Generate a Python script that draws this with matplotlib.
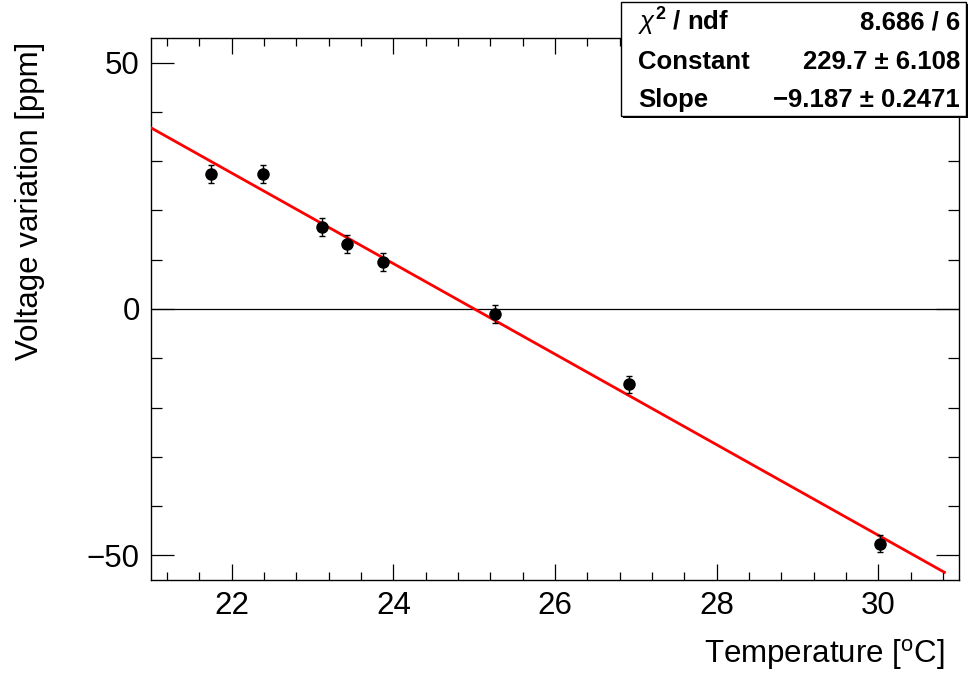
import matplotlib
matplotlib.use("Agg")
import matplotlib.pyplot as plt
from matplotlib.patches import Rectangle
from matplotlib.ticker import MultipleLocator
import numpy as np

plt.rcParams['font.family'] = ['Liberation Sans', 'DejaVu Sans']
plt.rcParams['mathtext.fontset'] = 'custom'
plt.rcParams['mathtext.rm'] = 'Liberation Sans'
plt.rcParams['mathtext.it'] = 'Liberation Sans:italic'
plt.rcParams['mathtext.bf'] = 'Liberation Sans:bold'

# ---- data ----
temperature = [21.74, 22.39, 23.12, 23.43, 23.87, 25.26, 26.91, 30.02]
voltage_var = [27.4, 27.4, 16.7, 13.2, 9.5, -1.0, -15.3, -47.6]
voltage_err = [1.8, 1.8, 1.8, 1.8, 1.8, 1.8, 1.8, 1.8]

fit_constant = 229.7
fit_slope = -9.187
fit_range = [21.0, 30.82]

stats_labels = [r'$\chi^{\mathbf{2}}$ / ndf', 'Constant', 'Slope']
stats_values = ['8.686 / 6', '229.7 \u00b1 6.108', '\u22129.187 \u00b1 0.2471']

xlabel = r'Temperature [$^{\mathrm{o}}$C]'
ylabel = 'Voltage variation [ppm]'

W, H = 971, 675
fig = plt.figure(figsize=(W / 100, H / 100), dpi=100)

def fx(px):
    return px / W

def fy(py):
    return 1 - py / H

left, right, top, bottom = 151, 959, 38, 580
ax = fig.add_axes([fx(left), fy(bottom), fx(right - left), (bottom - top) / H])

ax.set_xlim(21, 31)
ax.set_ylim(-55, 55)

ax.axhline(0, color='black', lw=0.9, zorder=1)

fx_line = np.linspace(fit_range[0], fit_range[1], 200)
ax.plot(fx_line, fit_constant + fit_slope * fx_line, color='#ff0000', lw=2.0, zorder=3)

ax.errorbar(temperature, voltage_var, yerr=voltage_err, fmt='o', color='black',
            markersize=8, elinewidth=1.0, capsize=2.2, capthick=1.0, zorder=4)

ax.xaxis.set_major_locator(MultipleLocator(2))
ax.xaxis.set_minor_locator(MultipleLocator(0.4))
ax.yaxis.set_major_locator(MultipleLocator(50))
ax.yaxis.set_minor_locator(MultipleLocator(10))

ax.tick_params(axis='both', which='both', direction='in', top=True, right=True,
               labelsize=22.5, width=0.9)
ax.tick_params(axis='x', which='major', length=11.5, pad=8)
ax.tick_params(axis='x', which='minor', length=5.8)
ax.tick_params(axis='y', which='major', length=16.5, pad=8)
ax.tick_params(axis='y', which='minor', length=8)
for s in ax.spines.values():
    s.set_linewidth(1.0)

fig.text(fx(945), fy(655), xlabel, ha='right', va='center', fontsize=22.5)
fig.text(fx(30), fy(42), ylabel, ha='center', va='top', rotation=90, fontsize=22.5)

# stats box
bx0, bx1, by0, by1 = 621, 966, 2, 116
shadow = Rectangle((fx(bx0 + 2), fy(by1 + 2)), fx(bx1 - bx0), (by1 - by0) / H,
                   transform=fig.transFigure, facecolor='black', edgecolor='none', zorder=5)
fig.patches.append(shadow)
box = Rectangle((fx(bx0), fy(by1)), fx(bx1 - bx0), (by1 - by0) / H,
                transform=fig.transFigure, facecolor='white', edgecolor='black', lw=1.0, zorder=6)
fig.patches.append(box)

row_y = [22, 62, 100]
for lab, val, yy in zip(stats_labels, stats_values, row_y):
    fig.text(fx(638), fy(yy), lab, ha='left', va='center', fontsize=18.5,
             fontweight='bold', zorder=7)
    fig.text(fx(960), fy(yy), val, ha='right', va='center', fontsize=18.5,
             fontweight='bold', zorder=7)

fig.savefig('out.png', dpi=100)
